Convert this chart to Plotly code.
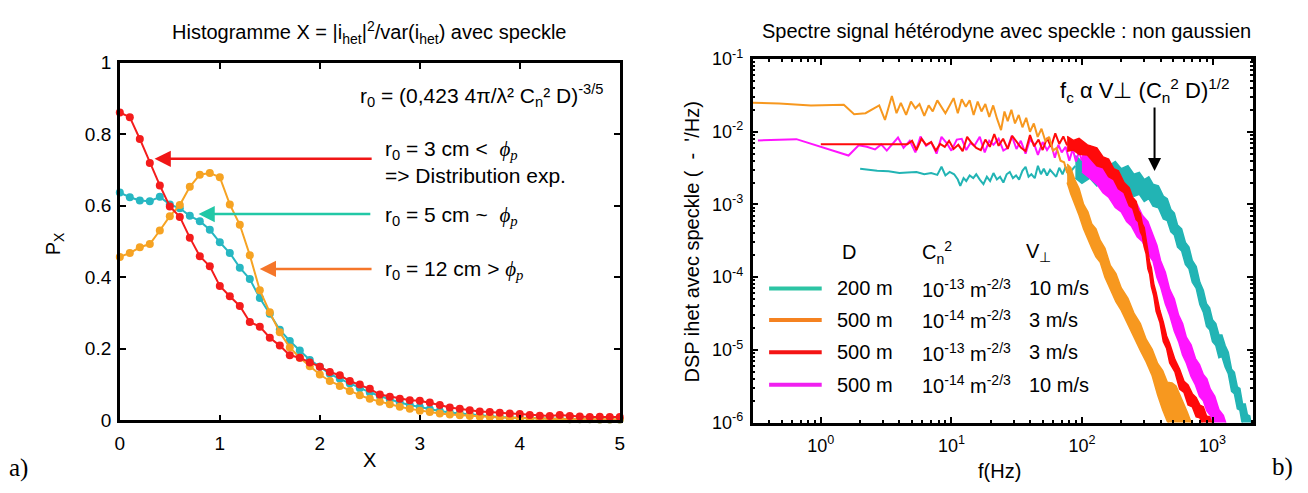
import plotly.graph_objects as go

# ================= data : (a) histogram of X =================
x_hist = [0.0, 0.1, 0.2, 0.3, 0.4, 0.5, 0.6, 0.7, 0.8, 0.9,
          1.0, 1.1, 1.2, 1.3, 1.4, 1.5, 1.6, 1.7, 1.8, 1.9,
          2.0, 2.1, 2.2, 2.3, 2.4, 2.5, 2.6, 2.7, 2.8, 2.9,
          3.0, 3.1, 3.2, 3.3, 3.4, 3.5, 3.6, 3.7, 3.8, 3.9,
          4.0, 4.1, 4.2, 4.3, 4.4, 4.5, 4.6, 4.7, 4.8, 4.9, 5.0]
p_r0_3cm = [0.861, 0.848, 0.787, 0.720, 0.657, 0.598, 0.569, 0.511, 0.459, 0.431,
            0.376, 0.347, 0.320, 0.275, 0.262, 0.231, 0.209, 0.182, 0.175, 0.162,
            0.150, 0.135, 0.126, 0.110, 0.100, 0.088, 0.072, 0.066, 0.060, 0.056,
            0.055, 0.050, 0.043, 0.036, 0.032, 0.028, 0.025, 0.023, 0.021, 0.019,
            0.018, 0.015, 0.013, 0.012, 0.015, 0.012, 0.011, 0.009, 0.010, 0.009, 0.009]
p_r0_5cm = [0.637, 0.624, 0.615, 0.613, 0.625, 0.604, 0.593, 0.572, 0.557, 0.533,
            0.498, 0.468, 0.427, 0.395, 0.342, 0.298, 0.253, 0.222, 0.195, 0.169,
            0.150, 0.130, 0.116, 0.103, 0.090, 0.078, 0.068, 0.058, 0.050, 0.043,
            0.037, 0.031, 0.026, 0.022, 0.019, 0.016, 0.013, 0.011, 0.009, 0.008,
            0.007, 0.006, 0.005, 0.004, 0.004, 0.003, 0.003, 0.003, 0.002, 0.002, 0.002]
p_r0_12cm = [0.457, 0.468, 0.484, 0.493, 0.531, 0.571, 0.602, 0.653, 0.687, 0.692,
             0.680, 0.604, 0.547, 0.462, 0.364, 0.302, 0.246, 0.204, 0.175, 0.151,
             0.128, 0.110, 0.096, 0.082, 0.070, 0.060, 0.052, 0.045, 0.038, 0.032,
             0.027, 0.023, 0.019, 0.016, 0.014, 0.012, 0.010, 0.009, 0.008, 0.007,
             0.006, 0.005, 0.005, 0.004, 0.004, 0.003, 0.003, 0.003, 0.002, 0.002, 0.002]

# ================= data : (b) spectra =================
# cyan : D=200 m, Cn2=1e-13, V=10 m/s
f_cyan = [2.0, 2.7, 3.3, 4.0, 4.6, 5.4, 6.2, 7.0, 7.8, 8.4,
          9.0, 9.7, 10.5, 11.2, 11.7, 12.4, 13.0, 13.8, 14.7, 15.5,
          16.5, 17.6, 18.7, 19.8, 21.0, 22.3, 23.6, 25.0, 26.5, 28.0,
          29.6, 31.3, 33.0, 35.0, 37.0, 39.0, 41.0, 43.5, 46.0, 48.5,
          51.0, 54.0, 57.0, 60.0, 63.5, 67.0, 71.0, 75.0, 79.0, 84.0, 89.0]
dsp_cyan = [3.1e-3, 2.9e-3, 2.85e-3, 2.7e-3, 2.75e-3, 2.8e-3, 2.6e-3, 2.7e-3, 2.55e-3, 3.3e-3,
            2.5e-3, 2.8e-3, 2.6e-3, 2.2e-3, 1.8e-3, 2.3e-3, 2.1e-3, 2.5e-3, 2.3e-3, 2.6e-3,
            2.2e-3, 1.9e-3, 2.4e-3, 2.1e-3, 2.7e-3, 2.2e-3, 2.4e-3, 2.0e-3, 2.6e-3, 2.8e-3,
            2.3e-3, 2.5e-3, 2.2e-3, 2.9e-3, 3.3e-3, 2.4e-3, 2.6e-3, 2.3e-3, 3.4e-3, 2.6e-3,
            3.1e-3, 2.5e-3, 3.0e-3, 2.7e-3, 2.4e-3, 3.2e-3, 2.6e-3, 3.3e-3, 2.5e-3, 3.0e-3, 3.4e-3]
band_f_cyan = [89, 100, 115, 130, 145, 160, 180, 200, 225, 250, 275, 300, 325, 350, 385,
               420, 450, 480, 510, 540, 580, 620, 660, 700, 750, 800, 850, 900, 950, 1000,
               1060, 1120, 1180, 1250, 1320, 1400, 1470, 1550, 1620, 1700, 1780, 1850, 1930, 2000]
band_hi_cyan = [4.7e-3, 3.9e-3, 4.6e-3, 3.6e-3, 4.3e-3, 3.4e-3, 3.9e-3, 3.1e-3, 3.4e-3, 2.6e-3,
                2.75e-3, 2.2e-3, 2.4e-3, 1.9e-3, 1.8e-3, 1.3e-3, 1.2e-3, 8.5e-4, 7.6e-4, 5.2e-4,
                4.6e-4, 3.0e-4, 2.6e-4, 1.7e-4, 1.4e-4, 8.5e-5, 6.6e-5, 4.3e-5, 3.8e-5, 2.6e-5,
                2.3e-5, 1.6e-5, 1.6e-5, 1.15e-5, 9.3e-6, 5.4e-6, 4.9e-6, 3.1e-6, 2.95e-6, 1.8e-6,
                1.8e-6, 1.29e-6, 1.23e-6, 8.1e-7]
band_lo_cyan = [2.3e-3, 1.95e-3, 2.3e-3, 1.8e-3, 2.1e-3, 1.7e-3, 1.95e-3, 1.55e-3, 1.7e-3, 1.29e-3,
                1.38e-3, 1.1e-3, 1.2e-3, 9.5e-4, 9.0e-4, 6.3e-4, 6.0e-4, 4.2e-4, 3.8e-4, 2.6e-4,
                2.3e-4, 1.5e-4, 1.3e-4, 8.5e-5, 7.0e-5, 4.2e-5, 3.3e-5, 2.1e-5, 1.9e-5, 1.3e-5,
                1.15e-5, 7.8e-6, 8.1e-6, 5.8e-6, 4.7e-6, 2.7e-6, 2.5e-6, 1.55e-6, 1.48e-6, 9.1e-7,
                9.1e-7, 6.5e-7, 6.2e-7, 4.1e-7]

# orange : D=500 m, Cn2=1e-14, V=3 m/s
f_orange = [0.30, 0.48, 0.84, 1.5, 1.8, 2.2, 2.8, 3.1, 3.5, 3.8,
            4.1, 4.5, 4.9, 5.3, 5.7, 6.2, 6.7, 7.2, 7.8, 8.4,
            9.0, 9.7, 10.4, 11.2, 12.0, 12.9, 13.8, 14.8, 15.9, 17.0,
            18.2, 19.5, 20.9, 22.4, 24.0, 25.5, 27.0, 28.8, 30.7, 32.8,
            35.0, 37.4, 40.0, 42.8, 45.8, 49.0, 52.4, 56.0, 60.0, 64.0,
            68.5, 73.0, 77.0]
dsp_orange = [2.50e-2, 2.45e-2, 2.30e-2, 2.35e-2, 1.74e-2, 1.80e-2, 2.30e-2, 1.45e-2, 3.10e-2, 1.80e-2,
              2.50e-2, 1.70e-2, 2.60e-2, 2.10e-2, 2.40e-2, 1.65e-2, 2.30e-2, 1.90e-2, 2.70e-2, 2.20e-2,
              1.80e-2, 2.30e-2, 2.90e-2, 1.80e-2, 2.80e-2, 2.20e-2, 2.70e-2, 1.70e-2, 2.60e-2, 1.90e-2,
              2.40e-2, 1.60e-2, 2.30e-2, 1.50e-2, 1.05e-2, 1.90e-2, 1.40e-2, 2.00e-2, 1.30e-2, 1.70e-2,
              1.15e-2, 1.55e-2, 1.00e-2, 1.30e-2, 8.5e-3, 1.10e-2, 7.5e-3, 8.5e-3, 5.5e-3, 6.0e-3,
              4.0e-3, 3.8e-3, 2.7e-3]
band_f_orange = [77, 82, 88, 95, 103, 111, 119, 128, 138, 150, 165, 182, 200, 225,
                 250, 280, 310, 345, 380, 415, 450, 490, 525, 565, 600, 640, 680]
band_hi_orange = [3.6e-3, 3.2e-3, 2.2e-3, 1.66e-3, 1.0e-3, 7.9e-4, 5.4e-4, 4.6e-4, 3.2e-4, 2.5e-4,
                  1.45e-4, 1.12e-4, 7.1e-5, 5.1e-5, 3.2e-5, 2.3e-5, 1.4e-5, 1.02e-5, 6.5e-6, 5.2e-6,
                  3.6e-6, 3.5e-6, 3.2e-6, 2.4e-6, 1.8e-6, 1.4e-6, 1.05e-6]
band_lo_orange = [2.0e-3, 1.4e-3, 1.0e-3, 7.1e-4, 4.6e-4, 3.3e-4, 2.5e-4, 1.9e-4, 1.6e-4, 1.0e-4,
                  6.9e-5, 4.6e-5, 3.5e-5, 2.2e-5, 1.5e-5, 9.8e-6, 6.9e-6, 4.4e-6, 2.4e-6, 1.5e-6,
                  1.05e-6, 8.0e-7, 7.5e-7, 7.0e-7, 6.5e-7, 6.0e-7, 5.0e-7]

# red : D=500 m, Cn2=1e-13, V=3 m/s
f_red = [1.0, 4.6, 5.0, 5.4, 5.9, 6.4, 7.0, 7.6, 8.2, 8.9,
         9.6, 10.4, 11.3, 12.2, 13.2, 14.3, 15.5, 16.8, 18.2, 19.7,
         21.3, 23.0, 24.9, 27.0, 29.2, 31.6, 34.2, 37.0, 40.0, 43.0,
         46.5, 50.0, 54.0, 58.0, 62.5, 67.0, 72.0, 77.0]
dsp_red = [6.7e-3, 6.7e-3, 7.5e-3, 5.6e-3, 8.0e-3, 6.6e-3, 7.2e-3, 5.5e-3, 6.8e-3, 6.2e-3,
           7.5e-3, 5.8e-3, 6.6e-3, 5.4e-3, 8.5e-3, 7.0e-3, 6.0e-3, 5.6e-3, 7.8e-3, 6.2e-3,
           9.3e-3, 6.4e-3, 8.0e-3, 5.8e-3, 8.8e-3, 7.2e-3, 6.0e-3, 5.4e-3, 9.0e-3, 6.3e-3,
           7.8e-3, 5.6e-3, 8.2e-3, 6.2e-3, 9.5e-3, 6.8e-3, 8.6e-3, 6.5e-3]
band_f_red = [77, 86, 95, 110, 130, 145, 160, 175, 190, 210, 230, 245, 260, 270, 280,
              290, 300, 310, 320, 330, 340, 355, 370, 395, 420, 445, 470, 515, 560, 605,
              650, 700, 750, 800, 850, 900, 950, 1000, 1050]
band_hi_red = [8.6e-3, 7.6e-3, 8.1e-3, 6.6e-3, 6.0e-3, 4.5e-3, 4.2e-3, 3.1e-3, 2.9e-3, 2.0e-3,
               1.7e-3, 1.25e-3, 1.1e-3, 8.3e-4, 7.5e-4, 5.4e-4, 4.8e-4, 3.1e-4, 2.4e-4, 1.6e-4,
               1.35e-4, 8.1e-5, 6.1e-5, 3.5e-5, 2.4e-5, 1.55e-5, 1.22e-5, 7.4e-6, 5.4e-6, 3.7e-6,
               3.3e-6, 2.5e-6, 2.2e-6, 1.74e-6, 1.65e-6, 1.23e-6, 1.2e-6, 9.3e-7, 8.9e-7]
band_lo_red = [5.4e-3, 5.6e-3, 4.9e-3, 4.8e-3, 3.4e-3, 3.2e-3, 2.4e-3, 2.2e-3, 1.65e-3, 1.45e-3,
               9.6e-4, 8.8e-4, 6.2e-4, 5.8e-4, 4.2e-4, 3.7e-4, 2.6e-4, 2.1e-4, 1.3e-4, 1.1e-4,
               7.4e-5, 5.5e-5, 3.4e-5, 2.4e-5, 1.3e-5, 1.05e-5, 6.6e-6, 5.0e-6, 2.9e-6, 2.6e-6,
               1.75e-6, 1.65e-6, 1.2e-6, 1.17e-6, 8.7e-7, 8.3e-7, 6.5e-7, 6.3e-7, 4.6e-7]

# magenta : D=500 m, Cn2=1e-14, V=10 m/s
f_magenta = [0.33, 0.65, 1.63, 1.95, 2.25, 2.6, 2.9, 3.2, 3.9, 4.3,
             4.8, 5.3, 5.8, 6.4, 7.0, 7.7, 8.4, 9.2, 10.0, 11.0,
             12.0, 13.0, 14.0, 15.0, 16.5, 18.0, 19.5, 21.0, 23.0, 25.0,
             27.0, 29.0, 31.5, 34.0, 37.0, 40.0, 43.0, 46.0, 50.0, 54.0,
             58.0, 62.0, 66.0, 70.0, 75.0, 80.0, 85.0, 90.0, 95.0, 100.0]
dsp_magenta = [7.6e-3, 7.9e-3, 4.7e-3, 6.5e-3, 6.2e-3, 5.7e-3, 6.7e-3, 5.5e-3, 8.3e-3, 6.0e-3,
               7.5e-3, 5.2e-3, 8.6e-3, 6.4e-3, 7.2e-3, 5.0e-3, 8.5e-3, 7.0e-3, 5.5e-3, 7.8e-3,
               8.0e-3, 5.6e-3, 7.0e-3, 6.4e-3, 8.5e-3, 5.2e-3, 7.5e-3, 6.6e-3, 8.0e-3, 5.5e-3,
               6.0e-3, 8.8e-3, 5.8e-3, 7.5e-3, 5.0e-3, 7.8e-3, 6.8e-3, 4.8e-3, 7.2e-3, 5.6e-3,
               6.8e-3, 4.4e-3, 6.6e-3, 5.2e-3, 6.2e-3, 4.0e-3, 5.8e-3, 3.9e-3, 5.3e-3, 4.0e-3]
band_f_magenta = [100, 115, 130, 145, 160, 180, 200, 220, 240, 265, 290, 320, 350, 375, 400,
                  435, 470, 510, 550, 590, 630, 685, 740, 795, 850, 905, 960, 1040, 1120, 1210, 1300]
band_hi_magenta = [5.5e-3, 5.2e-3, 4.3e-3, 3.8e-3, 2.9e-3, 2.5e-3, 1.8e-3, 1.6e-3, 1.15e-3, 1.0e-3,
                   7.1e-4, 5.8e-4, 3.8e-4, 2.75e-4, 1.7e-4, 1.17e-4, 6.8e-5, 5.0e-5, 3.0e-5, 2.3e-5,
                   1.5e-5, 1.17e-5, 7.6e-6, 6.3e-6, 4.6e-6, 4.0e-6, 2.9e-6, 2.3e-6, 1.5e-6, 1.26e-6, 8.5e-7]
band_lo_magenta = [2.8e-3, 2.3e-3, 1.9e-3, 1.45e-3, 1.26e-3, 9.1e-4, 7.9e-4, 5.8e-4, 5.0e-4, 3.6e-4,
                   3.1e-4, 2.1e-4, 1.66e-4, 1.0e-4, 7.4e-5, 4.3e-5, 3.0e-5, 1.8e-5, 1.3e-5, 8.5e-6,
                   6.6e-6, 4.3e-6, 3.3e-6, 2.3e-6, 2.0e-6, 1.45e-6, 1.26e-6, 8.3e-7, 6.6e-7, 4.6e-7, 3.7e-7]

# legend table
legend_D = ["200 m", "500 m", "500 m", "500 m"]
legend_Cn2 = ["10<sup>-13</sup> m<sup>-2/3</sup>", "10<sup>-14</sup> m<sup>-2/3</sup>",
              "10<sup>-13</sup> m<sup>-2/3</sup>", "10<sup>-14</sup> m<sup>-2/3</sup>"]
legend_V = ["10 m/s", "3 m/s", "3 m/s", "10 m/s"]

# tick labels
hist_xticks = [0, 1, 2, 3, 4, 5]
hist_yticks = [0, 0.2, 0.4, 0.6, 0.8, 1]
spec_xticks = [1, 10, 100, 1000]
spec_xtext = ["10<sup>0</sup>", "10<sup>1</sup>", "10<sup>2</sup>", "10<sup>3</sup>"]
spec_yticks = [1e-6, 1e-5, 1e-4, 1e-3, 1e-2, 1e-1]
spec_ytext = ["10<sup>-6</sup>", "10<sup>-5</sup>", "10<sup>-4</sup>",
              "10<sup>-3</sup>", "10<sup>-2</sup>", "10<sup>-1</sup>"]

# ================= styling =================
W, H = 1308, 493
def px(x):
    return x / W
def py(y):
    return 1 - y / H

FONT = "Liberation Sans, Arial, sans-serif"
SERIF = "Liberation Serif, Times New Roman, serif"

C_RED = "#f41c1c"
C_CYAN = "#27b7c2"
C_ORANGE = "#f6a323"
S_CYAN = "#22b4b4"
S_ORANGE = "#f7981f"
S_RED = "#ff0a0a"
S_MAG = "#ff14ff"

fig = go.Figure()

# ---- (a) ----
for vals, col in [(p_r0_5cm, C_CYAN), (p_r0_12cm, C_ORANGE), (p_r0_3cm, C_RED)]:
    fig.add_trace(go.Scatter(x=x_hist, y=vals, mode="lines+markers",
                             line=dict(color=col, width=2),
                             marker=dict(size=8, color=col),
                             cliponaxis=False, showlegend=False,
                             xaxis="x", yaxis="y"))

# ---- (b) ----
series = [
    (f_cyan, dsp_cyan, band_f_cyan, band_hi_cyan, band_lo_cyan, S_CYAN),
    (f_magenta, dsp_magenta, band_f_magenta, band_hi_magenta, band_lo_magenta, S_MAG),
    (f_red, dsp_red, band_f_red, band_hi_red, band_lo_red, S_RED),
    (f_orange, dsp_orange, band_f_orange, band_hi_orange, band_lo_orange, S_ORANGE),
]
for f, d, bf, bh, bl, col in series:
    fig.add_trace(go.Scatter(x=bf + bf[::-1], y=bh + bl[::-1], mode="lines",
                             fill="toself", fillcolor=col,
                             line=dict(color=col, width=1.5),
                             showlegend=False, xaxis="x2", yaxis="y2"))
    fig.add_trace(go.Scatter(x=f, y=d, mode="lines",
                             line=dict(color=col, width=2),
                             showlegend=False, xaxis="x2", yaxis="y2"))

def axis_style(size):
    return dict(showline=True, linewidth=2.5, linecolor="black", mirror="ticks",
                ticks="inside", ticklen=6, tickwidth=2, tickcolor="black",
                showgrid=False, zeroline=False,
                tickfont=dict(family=FONT, size=size, color="black"))

fig.update_layout(
    width=W, height=H,
    margin=dict(l=0, r=0, t=0, b=0),
    paper_bgcolor="white", plot_bgcolor="white",
    font=dict(family=FONT, size=19, color="black"),
    xaxis=dict(domain=[px(115.7), px(619.5)], range=[0, 5], anchor="y",
               tickmode="array", tickvals=hist_xticks, ticklabelstandoff=4, **axis_style(19)),
    yaxis=dict(domain=[py(428.3), py(53.3)], range=[0, 1], anchor="x",
               tickmode="array", tickvals=hist_yticks, ticklabelstandoff=2, **axis_style(19)),
    xaxis2=dict(type="log", domain=[px(753.3), px(1257.6)], range=[-0.523, 3.31], anchor="y2",
                tickmode="array", tickvals=spec_xticks, ticktext=spec_xtext, ticklabelstandoff=5,
                minor=dict(ticks="inside", ticklen=3, tickwidth=1.5, tickcolor="black", dtick="D1"),
                **axis_style(18)),
    yaxis2=dict(type="log", domain=[py(430.7), py(49.3)], range=[-6, -1], anchor="x2",
                tickmode="array", tickvals=spec_yticks, ticktext=spec_ytext, ticklabelstandoff=3,
                minor=dict(ticks="inside", ticklen=3, tickwidth=1.5, tickcolor="black", dtick="D1"),
                **axis_style(18)),
)

PHI = "<span style='font-family:Liberation Serif'><i>ϕ</i><sub><i>p</i></sub></span>"
ann = []

def text(x, y, s, size=20, xanchor="center", family=FONT, angle=0):
    ann.append(dict(x=px(x), y=py(y), xref="paper", yref="paper", text=s, showarrow=False,
                    xanchor=xanchor, yanchor="middle", textangle=angle,
                    font=dict(family=family, size=size, color="black")))

def arrow(x_tip, y_tip, dx, dy, color, width):
    ann.append(dict(x=px(x_tip), y=py(y_tip), xref="paper", yref="paper", text="",
                    showarrow=True, ax=dx, ay=dy, arrowhead=2, arrowsize=1.3,
                    arrowwidth=width, arrowcolor=color, standoff=0))

# titles
text(367, 22, "Histogramme X = |i<sub>het</sub>|<sup>2</sup>/var(i<sub>het</sub>) avec speckle", size=20)
text(1009, 20, "Spectre signal hétérodyne avec speckle : non gaussien", size=20)

# axis titles
text(367, 470, "X")
text(50, 243, "P<sub>X</sub>", angle=-90)
text(1002, 481, "f(Hz)")
text(692, 241, "DSP ihet avec speckle (  -  ʹ/Hz)", angle=-90)

# panel labels
text(2, 478, "a)", size=25, xanchor="left", family=SERIF)
text(1275, 477, "b)", size=25, xanchor="left", family=SERIF)

# (a) annotations
text(356, 88, "r<sub>0</sub> = (0,423 4π/λ² C<sub>n</sub>² D)<sup>-3/5</sup>", size=21, xanchor="left")
text(381, 145, "r<sub>0</sub> = 3 cm &lt;  " + PHI, size=21, xanchor="left")
text(381, 171, "=&gt; Distribution exp.", size=21, xanchor="left")
text(381, 214, "r<sub>0</sub> = 5 cm ~  " + PHI, size=21, xanchor="left")
text(381, 271, "r<sub>0</sub> = 12 cm &gt; " + PHI, size=21, xanchor="left")
arrow(150.7, 154, 218.6, 0, "#f01616", 2.5)
arrow(195.0, 212, 173.3, 0, "#22c8a6", 2.5)
arrow(256.7, 269.5, 113.3, 0, "#f5762a", 2.5)

# (b) annotations
text(1061, 82, "f<sub>c</sub> α V⊥ (C<sub>n</sub><sup>2</sup> D)<sup>1/2</sup>", size=22, xanchor="left")
arrow(1158.4, 166.7, 0, -65, "black", 2)

# legend table
text(850, 252, "D")
text(922, 252, "C<sub>n</sub><sup>2</sup>", xanchor="left")
text(1027, 252, "V<sub>⊥</sub>", xanchor="left")
row_y = [290, 323, 357, 391]
leg_cols = ["#2cc4a4", "#f58220", "#f41414", "#f020f0"]
shapes = []
for i in range(4):
    shapes.append(dict(type="line", xref="paper", yref="paper",
                       x0=px(770), x1=px(823), y0=py(row_y[i]), y1=py(row_y[i]),
                       line=dict(color=leg_cols[i], width=4)))
    text(836, row_y[i], legend_D[i], xanchor="left")
    text(922, row_y[i], legend_Cn2[i], xanchor="left")
    text(1030, row_y[i], legend_V[i], xanchor="left")

fig.update_layout(annotations=ann, shapes=shapes)
fig.write_html("out.html", config={"displayModeBar": False},
               post_script="document.body.style.margin='0px';document.body.style.overflow='hidden';")
